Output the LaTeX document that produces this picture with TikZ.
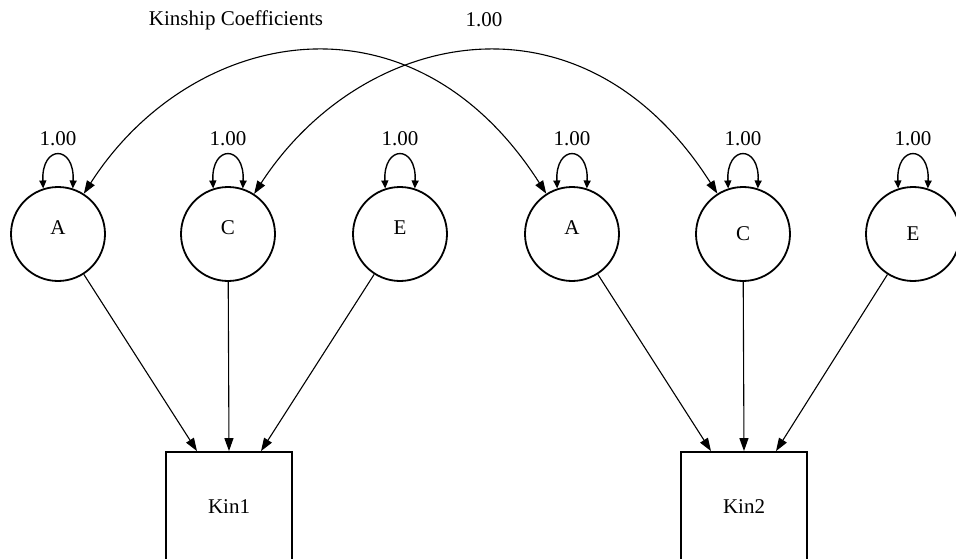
\documentclass[tikz,border=0pt]{standalone}
\usepackage{fontspec}
\setmainfont{Liberation Serif}
\usetikzlibrary{arrows.meta}

\begin{document}
\begin{tikzpicture}[x=1pt,y=-1pt,
  font=\fontsize{21}{25}\selectfont,
  latent/.style={draw, circle, line width=1.8pt, minimum size=94pt, inner sep=0pt},
  lowtxt/.style={text height=15pt, text depth=15pt},
  manifest/.style={draw, rectangle, line width=1.8pt, minimum width=126pt, minimum height=110pt, inner sep=0pt},
  path/.style={line width=1.1pt, -{Triangle[length=13pt,width=9pt]}},
  cov/.style={line width=1.1pt, {Triangle[length=13pt,width=9pt]}-{Triangle[length=13pt,width=9pt]}},
  var/.style={line width=1.4pt, {Triangle[length=8pt,width=7pt]}-{Triangle[length=8pt,width=7pt]}}]
\useasboundingbox (0,0) rectangle (956,559);
\clip (0,0) rectangle (956,559);

%latent variables
\node[latent,lowtxt] (A1) at (58,234) {A};
\node[latent,lowtxt] (C1) at (228,234) {C};
\node[latent,lowtxt] (E1) at (400,234) {E};
\node[latent,lowtxt] (A2) at (572,234) {A};
\node[latent] (C2) at (743,234) {C};
\node[latent] (E2) at (913,234) {E};

%observed variables
\node[manifest] (kin1) at (229,507) {Kin1};
\node[manifest] (kin2) at (744,507) {Kin2};

%variances
\foreach \v in {A1,C1,E1,A2,C2,E2}{
  \draw[var] (\v.108) .. controls +(-2,-44) and +(2,-44) .. (\v.72);
  \node (lbl\v) at ([yshift=47]\v.north) {1.00};
}

%paths
\draw[path] (A1) -- ([xshift=-32]kin1.north);
\draw[path] (C1) -- (kin1.north);
\draw[path] (E1) -- ([xshift=32]kin1.north);
\draw[path] (A2) -- ([xshift=-33]kin2.north);
\draw[path] (C2) -- (kin2.north);
\draw[path] (E2) -- ([xshift=32]kin2.north);

%kinship coefficients
\draw[cov] (A1) .. controls (190,28) and (411,-18) .. (A2);
\draw[cov] (C1) .. controls (362,28) and (583,-18) .. (C2);
\node (kc) at (236,20) {Kinship Coefficients};
\node (kcval) at (484,20) {1.00};
\end{tikzpicture}
\end{document}
